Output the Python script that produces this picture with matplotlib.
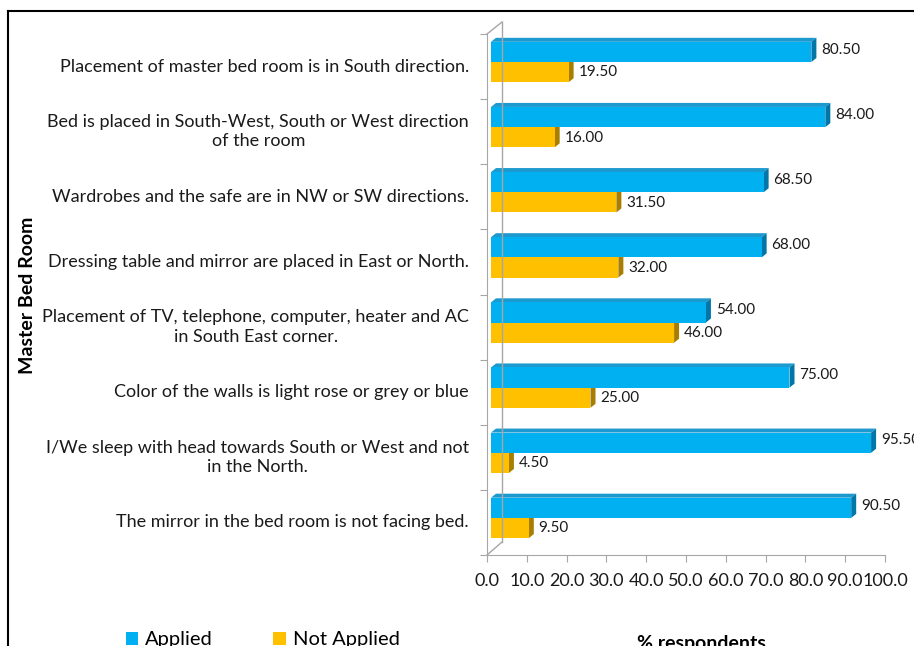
import numpy as np
import matplotlib.pyplot as plt
import matplotlib.transforms as mtransforms
from matplotlib.patches import Polygon
from matplotlib.lines import Line2D

plt.rcParams['font.family'] = ['Lato', 'DejaVu Sans']

# data
categories = [
    "Placement of master bed room is in South direction.",
    "Bed is placed in South-West, South or West direction\nof the room",
    "Wardrobes and the safe are in NW or SW directions.",
    "Dressing table and mirror are placed in East or North.",
    "Placement of TV, telephone, computer, heater and AC\nin South East corner.",
    "Color of the walls is light rose or grey or blue",
    "I/We sleep with head towards South or West and not\nin the North.",
    "The mirror in the bed room is not facing bed.",
]
applied = [80.5, 84.0, 68.5, 68.0, 54.0, 75.0, 95.5, 90.5]
not_applied = [19.5, 16.0, 31.5, 32.0, 46.0, 25.0, 4.5, 9.5]
series_names = ["Applied", "Not Applied"]
xticks = np.arange(0, 101, 10)

W, H = 914, 646
fig = plt.figure(figsize=(W / 100, H / 100), dpi=100)
ax = fig.add_axes([487 / W, 1 - 555 / H, 398 / W, 521 / H])
ax.set_xlim(0, 100)
ax.set_ylim(7.5, -0.5)

# colours: front, top, side
blue = ("#00B0F0", "#1C9ACF", "#0077A8")
yellow = ("#FFC000", "#E0A800", "#A87E00")

# 3d depth in data units (approx 5 px across, 4 px up)
ddx = 5 / 3.98
ddy = 4 / 65.1
h = 0.31
off = ax.transData + mtransforms.ScaledTranslation(4 / 100, 0, fig.dpi_scale_trans)


def bar3d(y, v, cols):
    top, bot = y - h / 2, y + h / 2
    ax.add_patch(Polygon([[0, top], [v, top], [v + ddx, top - ddy], [ddx, top - ddy]],
                         closed=True, fc=cols[1], ec='none', transform=off))
    ax.add_patch(Polygon([[v, top], [v + ddx, top - ddy], [v + ddx, bot - ddy], [v, bot]],
                         closed=True, fc=cols[2], ec='none', transform=off))
    ax.add_patch(Polygon([[0, top], [v, top], [v, bot], [0, bot]],
                         closed=True, fc=cols[0], ec='none', transform=off))


ypos = np.arange(len(categories))
for i in ypos:
    bar3d(i + 0.085, not_applied[i], yellow)
    bar3d(i - 0.225, applied[i], blue)
    ax.annotate(f"{applied[i]:.2f}", (applied[i], i - 0.26), xytext=(10, 0),
                textcoords='offset points', va='center', ha='left', fontsize=11,
                color='#1a1a1a', annotation_clip=False)
    ax.annotate(f"{not_applied[i]:.2f}", (not_applied[i], i + 0.09), xytext=(10, 0),
                textcoords='offset points', va='center', ha='left', fontsize=11,
                color='#1a1a1a', annotation_clip=False)

# axes styling
for s in ['top', 'right']:
    ax.spines[s].set_visible(False)
for s in ['left', 'bottom']:
    ax.spines[s].set_color('#a6a6a6')
ax.set_xticks(xticks)
ax.set_xticklabels([f"{t:.1f}" for t in xticks], fontsize=13)
ax.tick_params(axis='x', colors='#a6a6a6', labelcolor='#1a1a1a', length=5, pad=8)
ax.set_yticks(np.arange(-0.5, 8, 1.0))
ax.set_yticklabels([])
ax.tick_params(axis='y', colors='#a6a6a6', length=5)
for i, c in enumerate(categories):
    ax.text(-0.045, i, c, transform=ax.get_yaxis_transform(), ha='right', va='center',
            multialignment='center', fontsize=13, color='#1a1a1a', linespacing=1.25)

# back wall lines
def fline(x, y, **kw):
    fig.add_artist(Line2D([v / W for v in x], [1 - v / H for v in y], **kw))

fline([502, 502], [22, 542], color='#a6a6a6', lw=1)
fline([487, 502], [34, 22], color='#a6a6a6', lw=1)
fline([487, 502], [555, 542], color='#a6a6a6', lw=1)

# outer frame
fline([8, W], [11, 11], color='black', lw=1.5)
fline([8, 8], [11, H], color='black', lw=1.5)

fig.text(28 / W, 1 - 295 / H, "Master Bed Room", rotation=90, ha='center', va='center',
         fontsize=14, fontweight='bold')
fig.text(701 / W, 1 - 644 / H, "% respondents", ha='center', va='center',
         fontsize=14, fontweight='bold')

handles = [Polygon([[0, 0]], fc=blue[0]), Polygon([[0, 0]], fc=yellow[0])]
fig.legend(handles, series_names, loc='center left', bbox_to_anchor=(108 / W, 1 - 640 / H),
           ncol=2, frameon=False, fontsize=14.5, handlelength=0.6, handleheight=0.6,
           handletextpad=0.35, columnspacing=3.0)

fig.savefig('out.png', dpi=100)
